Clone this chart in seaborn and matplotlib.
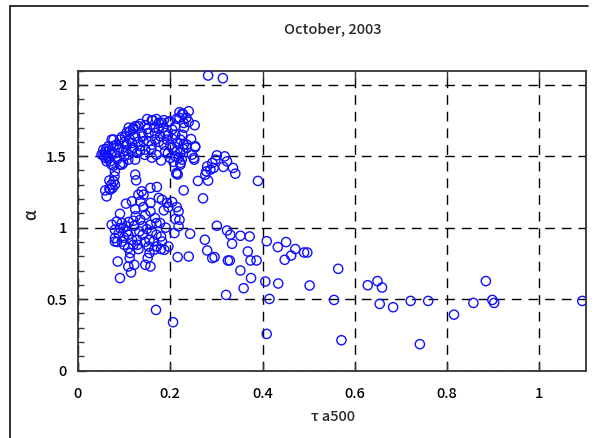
import matplotlib
matplotlib.use("Agg")
import matplotlib.pyplot as plt
import matplotlib.lines as mlines
import seaborn as sns
import pandas as pd
import numpy as np

# ---- data ----
tau_upper = [0.282, 0.314, 0.240, 0.220, 0.228, 0.235, 0.214, 0.229, 0.253, 0.211,
             0.199, 0.186, 0.175, 0.160, 0.146, 0.135, 0.124, 0.119, 0.106, 0.095,
             0.077, 0.061, 0.055, 0.059, 0.070, 0.077, 0.095, 0.080, 0.079, 0.077,
             0.080, 0.075, 0.070, 0.059, 0.062, 0.124, 0.126,
             0.226, 0.220, 0.196, 0.182, 0.162, 0.131, 0.120, 0.113, 0.102, 0.091,
             0.073, 0.066, 0.055, 0.051, 0.062, 0.073, 0.091, 0.098, 0.066,
             0.088, 0.098, 0.109, 0.117, 0.128, 0.124, 0.109, 0.135, 0.146, 0.159,
             0.142, 0.153, 0.167, 0.178, 0.189, 0.204, 0.211, 0.222, 0.229, 0.236,
             0.222, 0.211, 0.200, 0.189, 0.186, 0.167, 0.153, 0.138, 0.124, 0.117,
             0.106, 0.077, 0.073, 0.066, 0.225, 0.222, 0.214, 0.251, 0.254, 0.204,
             0.193, 0.254, 0.247, 0.252, 0.222, 0.218, 0.228, 0.236,
             0.060, 0.058, 0.064, 0.068, 0.083, 0.090, 0.100, 0.112, 0.130, 0.140,
             0.150, 0.165, 0.175, 0.185, 0.195, 0.205, 0.215, 0.200, 0.175, 0.160,
             0.145, 0.135, 0.120, 0.100, 0.085, 0.080, 0.104, 0.170, 0.180, 0.160,
             0.195, 0.230, 0.240, 0.207, 0.215, 0.245, 0.226, 0.150, 0.170, 0.110,
             0.068, 0.072]
alpha_upper = [2.065, 2.046, 1.815, 1.808, 1.792, 1.769, 1.762, 1.733, 1.717, 1.710,
               1.745, 1.752, 1.733, 1.752, 1.717, 1.726, 1.710, 1.687, 1.668, 1.635,
               1.617, 1.551, 1.511, 1.488, 1.464, 1.434, 1.441, 1.394, 1.359, 1.324,
               1.301, 1.278, 1.266, 1.261, 1.219, 1.371, 1.331,
               1.799, 1.769, 1.738, 1.733, 1.752, 1.710, 1.698, 1.675, 1.640, 1.616,
               1.616, 1.570, 1.546, 1.511, 1.464, 1.441, 1.441, 1.453, 1.488,
               1.546, 1.534, 1.511, 1.546, 1.523, 1.476, 1.476, 1.570, 1.546, 1.546,
               1.605, 1.605, 1.616, 1.640, 1.663, 1.687, 1.651, 1.616, 1.581, 1.558,
               1.523, 1.499, 1.488, 1.534, 1.581, 1.663, 1.663, 1.663, 1.640, 1.593,
               1.581, 1.570, 1.523, 1.488, 1.476, 1.441, 1.383, 1.488, 1.570, 1.558,
               1.616, 1.563, 1.511, 1.476, 1.453, 1.488, 1.551, 1.581,
               1.530, 1.505, 1.500, 1.540, 1.580, 1.560, 1.600, 1.620, 1.600, 1.640,
               1.690, 1.700, 1.690, 1.700, 1.650, 1.620, 1.590, 1.580, 1.600, 1.580,
               1.510, 1.540, 1.560, 1.500, 1.480, 1.520, 1.540, 1.510, 1.470, 1.490,
               1.520, 1.700, 1.740, 1.460, 1.540, 1.620, 1.650, 1.760, 1.760, 1.700,
               1.330, 1.300]

tau_arm = [0.301, 0.318, 0.323, 0.315, 0.298, 0.291, 0.294, 0.280, 0.278, 0.287,
           0.336, 0.341, 0.276, 0.282, 0.260, 0.390, 0.213, 0.216, 0.229, 0.271]
alpha_arm = [1.506, 1.499, 1.464, 1.425, 1.476, 1.453, 1.418, 1.429, 1.394, 1.406,
             1.418, 1.378, 1.371, 1.329, 1.327, 1.327, 1.378, 1.372, 1.261, 1.205]

tau_lower = [0.068, 0.157, 0.171, 0.138, 0.131, 0.142, 0.135, 0.117, 0.104, 0.124,
             0.142, 0.157, 0.175, 0.182, 0.193, 0.204, 0.186, 0.196, 0.214, 0.218,
             0.220, 0.211, 0.218, 0.209, 0.243, 0.216, 0.240, 0.157, 0.146, 0.135,
             0.167, 0.170, 0.157, 0.160, 0.149, 0.133, 0.120, 0.122, 0.091, 0.084,
             0.073, 0.095, 0.091, 0.098, 0.080, 0.106, 0.109, 0.080, 0.080, 0.095,
             0.117, 0.128, 0.129, 0.131, 0.109, 0.113, 0.112, 0.109, 0.122, 0.115,
             0.086, 0.091, 0.146, 0.157, 0.151, 0.155, 0.153, 0.155, 0.164, 0.165,
             0.171, 0.180, 0.182, 0.180, 0.187, 0.196, 0.178, 0.190, 0.169, 0.206,
             0.088, 0.100, 0.140, 0.145, 0.120, 0.100, 0.125, 0.110, 0.140, 0.170,
             0.085, 0.105]
alpha_lower = [1.271, 1.278, 1.285, 1.254, 1.231, 1.231, 1.184, 1.184, 1.168, 1.130,
               1.144, 1.173, 1.208, 1.196, 1.173, 1.180, 1.121, 1.144, 1.144, 1.114,
               1.055, 1.061, 1.009, 0.962, 0.957, 0.794, 0.798, 1.114, 1.090, 1.055,
               1.067, 1.032, 1.020, 0.973, 0.990, 0.973, 1.048, 1.013, 1.097, 1.043,
               1.020, 1.032, 0.997, 0.997, 0.985, 0.973, 0.950, 0.927, 0.903, 0.903,
               0.915, 0.915, 0.880, 0.850, 0.857, 0.822, 0.787, 0.728, 0.740, 0.686,
               0.763, 0.647, 0.740, 0.728, 0.787, 0.822, 0.868, 0.915, 0.903, 0.845,
               0.868, 0.938, 0.903, 0.850, 0.845, 0.868, 1.032, 1.000, 0.424, 0.338,
               0.960, 0.930, 0.950, 0.900, 0.880, 0.880, 1.080, 1.040, 1.010, 0.950,
               0.900, 1.010]

tau_right = [0.301, 0.323, 0.330, 0.352, 0.372, 0.275, 0.334, 0.280, 0.368, 0.291,
             0.296, 0.325, 0.329, 0.374, 0.387, 0.352, 0.375, 0.359, 0.321, 0.409,
             0.406, 0.415, 0.409, 0.433, 0.451, 0.471, 0.462, 0.448, 0.490, 0.497,
             0.434, 0.502, 0.555, 0.564, 0.571, 0.628, 0.649, 0.659, 0.654, 0.683,
             0.721, 0.759, 0.741, 0.815, 0.857, 0.884, 0.898, 0.902, 1.093]
alpha_right = [1.013, 0.980, 0.950, 0.943, 0.938, 0.915, 0.887, 0.840, 0.833, 0.787,
               0.794, 0.770, 0.770, 0.770, 0.770, 0.700, 0.647, 0.576, 0.529, 0.905,
               0.623, 0.501, 0.256, 0.864, 0.899, 0.850, 0.805, 0.775, 0.826, 0.826,
               0.609, 0.595, 0.494, 0.712, 0.212, 0.597, 0.626, 0.581, 0.466, 0.443,
               0.487, 0.487, 0.184, 0.391, 0.473, 0.626, 0.494, 0.473, 0.487]

x_ticks = [0, 0.2, 0.4, 0.6, 0.8, 1.0]
x_tick_labels = ["0", "0.2", "0.4", "0.6", "0.8", "1"]
y_ticks = [0, 0.5, 1.0, 1.5, 2.0]
y_tick_labels = ["0", "0.5", "1", "1.5", "2"]

df = pd.DataFrame({
    "tau": tau_upper + tau_arm + tau_lower + tau_right,
    "alpha": alpha_upper + alpha_arm + alpha_lower + alpha_right,
})

# ---- style ----
sns.set_style("white")
plt.rcParams["font.family"] = ["Noto Sans CJK JP", "DejaVu Sans"]
plt.rcParams["font.weight"] = "medium"
plt.rcParams["axes.unicode_minus"] = False

fig = plt.figure(figsize=(5.99, 4.38), dpi=100)
ax = fig.add_axes([78 / 599, 1 - 370.5 / 438, 507.5 / 599, 300 / 438])

sns.scatterplot(data=df, x="tau", y="alpha", ax=ax, marker="o", s=44,
                facecolor="none", edgecolor="#1010ff", linewidth=1.0, zorder=3)

ax.set_xlim(0, 1.1)
ax.set_ylim(0, 2.1)
ax.set_xticks(x_ticks)
ax.set_xticklabels(x_tick_labels)
ax.set_yticks(y_ticks)
ax.set_yticklabels(y_tick_labels)
ax.set_yticks(np.arange(0, 2.11, 0.1), minor=True)
ax.tick_params(axis="both", which="major", direction="in", length=6, width=1,
               labelsize=10.5, colors="#333333", labelcolor="black", pad=8)
ax.tick_params(axis="x", which="major", top=True, bottom=True)
ax.tick_params(axis="y", which="minor", direction="in", length=4, width=1,
               left=True, right=False, colors="#333333")
ax.tick_params(axis="y", which="major", left=True, right=False)
ax.tick_params(axis="x", pad=12)

ax.grid(True, which="major", color="black", linestyle=(0, (7, 5)), linewidth=1.0, zorder=1)
for s in ax.spines.values():
    s.set_color("#333333")
    s.set_linewidth(1.3)

ax.set_xlabel("")
ax.set_ylabel("")
fig.text(333 / 599, 1 - 417 / 438, "τ a500", ha="center", va="center", fontsize=10.5)
fig.text(31 / 599, 1 - 215 / 438, "α", ha="center", va="center", fontsize=12,
         rotation=90, style="italic")
fig.text(333 / 599, 1 - 29 / 438, "October, 2003", ha="center", va="center", fontsize=10.5)

# outer figure frame (left and top edges visible in the reference)
fig.add_artist(mlines.Line2D([10 / 599, 10 / 599], [0, 1 - 6 / 438],
                             transform=fig.transFigure, color="#222222", linewidth=1.3))
fig.add_artist(mlines.Line2D([10 / 599, 588 / 599], [1 - 6 / 438, 1 - 6 / 438],
                             transform=fig.transFigure, color="#222222", linewidth=1.3))

fig.savefig("out.png", dpi=100)
